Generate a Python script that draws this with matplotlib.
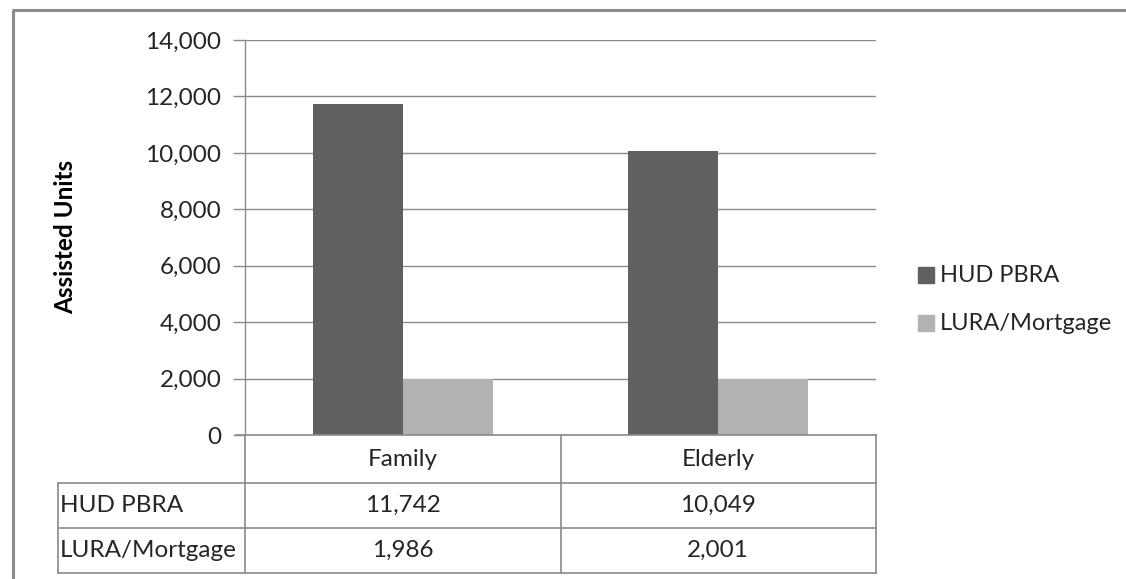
import matplotlib
matplotlib.use("Agg")
import matplotlib.pyplot as plt
import matplotlib.transforms as mtransforms
from matplotlib.lines import Line2D
from matplotlib.patches import Rectangle
import numpy as np

# ---- data ----
categories = ["Family", "Elderly"]
series_names = ["HUD PBRA", "LURA/Mortgage"]
hud_pbra = [11742, 10049]
lura_mortgage = [1986, 2001]
y_ticks = [0, 2000, 4000, 6000, 8000, 10000, 12000, 14000]
y_label = "Assisted Units"

colors = ["#606060", "#b2b2b2"]
grid_c = "#8a8a8a"
text_c = "#262626"
FONT = "Lato"
FS_TICK = 17.5
FS_LEG = 17
FS_TAB = 17.5
FS_YL = 17.5

W, H = 1126, 579
fig = plt.figure(figsize=(W / 100, H / 100), dpi=100)
fig.patch.set_facecolor("white")

# pixel transform (origin top-left)
px = mtransforms.Affine2D().scale(1 / W, -1 / H).translate(0, 1) + fig.transFigure

# plot area
x0, x1 = 245, 876
ytop, ybot = 40, 435
ax = fig.add_axes([x0 / W, 1 - ybot / H, (x1 - x0) / W, (ybot - ytop) / H])
ax.set_ylim(0, 14000)
ax.set_xlim(-0.5, len(categories) - 0.5)

x = np.arange(len(categories))
bw = 0.285
ax.bar(x - bw / 2, hud_pbra, width=bw, color=colors[0], zorder=3, label=series_names[0])
ax.bar(x + bw / 2, lura_mortgage, width=bw, color=colors[1], zorder=3, label=series_names[1])

ax.set_yticks(y_ticks)
ax.set_yticklabels([f"{v:,}" for v in y_ticks], fontsize=FS_TICK, family=FONT, color=text_c)
ax.tick_params(axis="y", length=9, color=grid_c, width=1, pad=8)
ax.set_xticks([])
ax.yaxis.grid(True, color=grid_c, linewidth=1, zorder=0)
for s in ["top", "right", "bottom"]:
    ax.spines[s].set_visible(False)
ax.spines["left"].set_color(grid_c)
ax.spines["left"].set_linewidth(1)

fig.text(66 / W, 1 - 237 / H, y_label, rotation=90, ha="center", va="center",
         fontsize=FS_YL, fontweight="bold", family=FONT, color="black")

# legend
for i, name in enumerate(series_names):
    yc = [275, 323][i]
    fig.patches.append(Rectangle((918, yc - 8), 16, 16, transform=px, color=colors[i]))
    fig.text(940 / W, 1 - yc / H, name, ha="left", va="center",
             fontsize=FS_LEG, family=FONT, color=text_c)

# data table
tl = dict(color=grid_c, linewidth=1.2, transform=px)
tleft = 58
r0, r1, r2, r3 = 435, 483, 528, 573
xm = (x0 + x1) / 2
lines = [
    ([236, x1], [r0, r0]),
    ([tleft, x1], [r1, r1]),
    ([tleft, x1], [r2, r2]),
    ([tleft, x1], [r3, r3]),
    ([tleft, tleft], [r1, r3]),
    ([x0, x0], [r0, r3]),
    ([xm, xm], [r0, r3]),
    ([x1, x1], [r0, r3]),
]
for xs, ys in lines:
    fig.lines.append(Line2D(xs, ys, **tl))

col_centers = [x0 + (x1 - x0) * (i + 0.5) / len(categories) for i in range(len(categories))]
for i, c in enumerate(categories):
    fig.text(col_centers[i] / W, 1 - (r0 + r1) / 2 / H, c, ha="center", va="center",
             fontsize=FS_TAB, family=FONT, color=text_c)
rows = [(series_names[0], hud_pbra, (r1 + r2) / 2), (series_names[1], lura_mortgage, (r2 + r3) / 2)]
for name, vals, yc in rows:
    fig.text((tleft + 2) / W, 1 - yc / H, name, ha="left", va="center",
             fontsize=FS_TAB, family=FONT, color=text_c)
    for i, v in enumerate(vals):
        fig.text(col_centers[i] / W, 1 - yc / H, f"{v:,}", ha="center", va="center",
                 fontsize=FS_TAB, family=FONT, color=text_c)

# outer chart border (left and top visible)
bl = dict(color="#8c8c8c", linewidth=2.2, transform=px, solid_capstyle="butt")
fig.lines.append(Line2D([13, 13], [10, H + 5], **bl))
fig.lines.append(Line2D([12, W + 5], [10, 10], **bl))

fig.savefig("out.png", dpi=100, facecolor="white")
